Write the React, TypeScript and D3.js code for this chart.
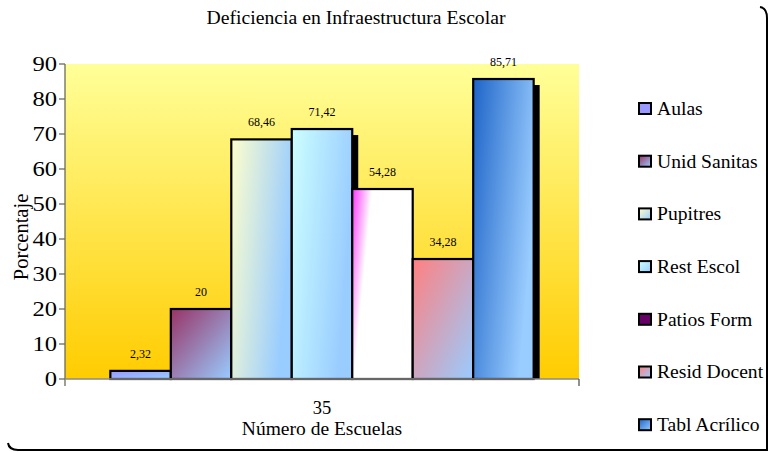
import React from "react";
import * as d3 from "d3";

const categories = ["35"];
const seriesNames = ["Aulas", "Unid Sanitas", "Pupitres", "Rest Escol", "Patios Form", "Resid Docent", "Tabl Acrílico"];
const seriesValues = [2.32, 20, 68.46, 71.42, 54.28, 34.28, 85.71];
const valueLabels = ["2,32", "20", "68,46", "71,42", "54,28", "34,28", "85,71"];
const yTicks = [0, 10, 20, 30, 40, 50, 60, 70, 80, 90];

// style per series: gradient stops [start, end], direction
const barGrad = [
  { a: "#9999ff", b: "#99ccff", x2: "100%", y2: "100%" },
  { a: "#993366", b: "#99ccff", x2: "100%", y2: "100%" },
  { a: "#ffffcc", b: "#99ccff", x2: "100%", y2: "35%" },
  { a: "#ccffff", b: "#99ccff", x2: "100%", y2: "35%" },
  { a: "#ff33ff", b: "#ffffff", x2: "100%", y2: "30%" },
  { a: "#ff8080", b: "#99ccff", x2: "100%", y2: "100%" },
  { a: "#1e64c8", b: "#99ccff", x2: "100%", y2: "45%" },
];
const legendGrad = [
  { a: "#9999ff", b: "#9999ff" },
  { a: "#993366", b: "#99ccff" },
  { a: "#ffffcc", b: "#99ccff" },
  { a: "#ccffff", b: "#99ccff" },
  { a: "#660066", b: "#660066" },
  { a: "#ff8080", b: "#99ccff" },
  { a: "#1e64c8", b: "#99ccff" },
];
const hasShadow = [true, true, true, true, false, false, true];

const W = 769, H = 452;
const M = { left: 65, right: 579, top: 64, bottom: 379 };
const FONT = "'Liberation Serif', 'Times New Roman', serif";

export default function App() {
  const y = d3.scaleLinear().domain([0, 90]).range([M.bottom, M.top]);
  const x0 = d3.scaleBand().domain(categories).range([M.left, M.right]).paddingOuter(0.1071).paddingInner(0);
  const x1 = d3.scaleBand().domain(seriesNames).range([0, x0.bandwidth()]);
  const cat = categories[0];
  const gx = x0(cat) as number;

  const legendY = (i: number) => 108.5 + i * 52.7;

  return (
    <svg width={W} height={H} style={{ position: "fixed", left: 0, top: 0, background: "#fff", fontFamily: FONT }}>
      <defs>
        <linearGradient id="plotbg" x1="0" y1="0" x2="0" y2="1">
          <stop offset="0%" stopColor="#ffff99" />
          <stop offset="100%" stopColor="#ffcc00" />
        </linearGradient>
        {barGrad.map((g, i) => (
          <linearGradient key={i} id={`bg${i}`} x1="0%" y1="0%" x2={g.x2} y2={g.y2}>
            <stop offset="0%" stopColor={g.a} />
            <stop offset={i === 4 ? "30%" : "100%"} stopColor={g.b} />
          </linearGradient>
        ))}
        {legendGrad.map((g, i) => (
          <linearGradient key={i} id={`lg${i}`} x1="0%" y1="0%" x2="100%" y2="100%">
            <stop offset="0%" stopColor={g.a} />
            <stop offset="100%" stopColor={g.b} />
          </linearGradient>
        ))}
      </defs>

      {/* frame shadow */}
      <path d={`M 760 7 Q 767 8 767 18 L 767 450 L 18 450 Q 9 450 8 443`} fill="none" stroke="#000" strokeWidth={2} />

      {/* title */}
      <text x={356} y={24} textAnchor="middle" fontSize={19.7} fill="#000">Deficiencia en Infraestructura Escolar</text>

      {/* plot area */}
      <rect x={M.left} y={M.top} width={M.right - M.left} height={M.bottom - M.top} fill="url(#plotbg)" />

      {/* bars: shadow then bar in order */}
      {seriesNames.map((s, i) => {
        const bx = gx + (x1(s) as number);
        const bw = x1.bandwidth();
        const by = y(seriesValues[i]);
        const bh = M.bottom - by;
        return (
          <g key={s}>
            {hasShadow[i] && <rect x={bx + 6} y={by + 6} width={bw} height={bh - 6} fill="#000" />}
            <rect x={bx} y={by} width={bw} height={bh} fill={`url(#bg${i})`} stroke="#000" strokeWidth={2.2} />
          </g>
        );
      })}

      {/* data labels */}
      {seriesNames.map((s, i) => {
        const cx = gx + (x1(s) as number) + x1.bandwidth() / 2;
        return (
          <text key={s} x={cx} y={y(seriesValues[i]) - 13} textAnchor="middle" fontSize={12} fill="#000">
            {valueLabels[i]}
          </text>
        );
      })}

      {/* axes */}
      <line x1={M.left} y1={M.top} x2={M.left} y2={M.bottom + 7} stroke="#6b6b5a" strokeWidth={1.3} />
      <line x1={M.left} y1={M.bottom} x2={M.right} y2={M.bottom} stroke="#8a8a8a" strokeWidth={1.3} />
      <line x1={M.right} y1={M.bottom} x2={M.right} y2={M.bottom + 7} stroke="#555" strokeWidth={1.3} />
      {yTicks.map((t) => (
        <g key={t}>
          <line x1={M.left - 6} x2={M.left} y1={y(t)} y2={y(t)} stroke="#6b6b5a" strokeWidth={1.3} />
          <text x={57} y={y(t)} dy="0.35em" textAnchor="end" fontSize={20.5} fill="#000" transform={`translate(57,0) scale(1.2,1) translate(-57,0)`}>
            {t}
          </text>
        </g>
      ))}

      {/* y title */}
      <text transform={`translate(28,237) rotate(-90)`} textAnchor="middle" fontSize={20.5} fill="#000">Porcentaje</text>

      {/* x labels */}
      <text x={(x0(cat) as number) + x0.bandwidth() / 2} y={414} textAnchor="middle" fontSize={18.5} fill="#000">{cat}</text>
      <text x={322} y={434.5} textAnchor="middle" fontSize={19.5} fill="#000">Número de Escuelas</text>

      {/* legend */}
      {seriesNames.map((s, i) => (
        <g key={s}>
          <rect x={639} y={legendY(i) - 5.5} width={12} height={11} fill={`url(#lg${i})`} stroke="#000" strokeWidth={2} />
          <text x={657} y={legendY(i)} dy="0.33em" fontSize={19.6} fill="#000">{s}</text>
        </g>
      ))}
    </svg>
  );
}
